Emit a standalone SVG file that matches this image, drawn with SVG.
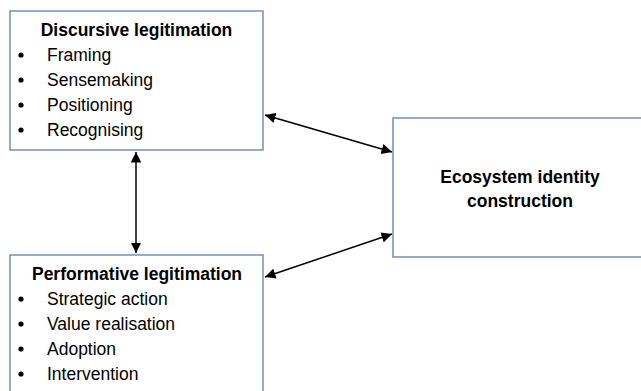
<svg xmlns="http://www.w3.org/2000/svg" width="641" height="391" viewBox="0 0 641 391">
<style>
.box{fill:#fff;stroke:#5b7fae;stroke-width:1.3}
.t{font-family:"Liberation Sans",Arial,sans-serif;font-size:17.5px;fill:#000}
.b{font-weight:bold}
.con{stroke:#000;stroke-width:1.5;fill:none;marker-start:url(#ah);marker-end:url(#ah)}
</style>
<defs>
<marker id="ah" viewBox="0 0 10 10" refX="10" refY="5" markerWidth="7" markerHeight="7" orient="auto-start-reverse" markerUnits="strokeWidth">
<path d="M0,0 L10,5 L0,10 Z" fill="#000"/>
</marker>
</defs>
<rect width="641" height="391" fill="#fff"/>
<g id="discursive">
<rect class="box" x="10" y="11" width="253" height="139"/>
<text class="t b" x="136.5" y="36" text-anchor="middle">Discursive legitimation</text>
<circle cx="21" cy="55" r="2.6"/><text class="t" x="47" y="61">Framing</text>
<circle cx="21" cy="80" r="2.6"/><text class="t" x="47" y="86">Sensemaking</text>
<circle cx="21" cy="105" r="2.6"/><text class="t" x="47" y="111">Positioning</text>
<circle cx="21" cy="130" r="2.6"/><text class="t" x="47" y="136">Recognising</text>
</g>
<g id="performative">
<rect class="box" x="10" y="255" width="253" height="145"/>
<text class="t b" x="137" y="280" text-anchor="middle">Performative legitimation</text>
<circle cx="21" cy="299" r="2.6"/><text class="t" x="47" y="305">Strategic action</text>
<circle cx="21" cy="324" r="2.6"/><text class="t" x="47" y="330">Value realisation</text>
<circle cx="21" cy="349" r="2.6"/><text class="t" x="47" y="355">Adoption</text>
<circle cx="21" cy="374" r="2.6"/><text class="t" x="47" y="380">Intervention</text>
</g>
<g id="ecosystem">
<rect class="box" x="393" y="118" width="260" height="139"/>
<text class="t b" x="520" y="183" text-anchor="middle">Ecosystem identity</text>
<text class="t b" x="520" y="207" text-anchor="middle">construction</text>
</g>
<g id="connectors">
<line class="con" x1="265" y1="115" x2="392" y2="152"/>
<line class="con" x1="265" y1="277" x2="392" y2="234"/>
<line class="con" x1="136" y1="152" x2="136" y2="253"/>
</g>
</svg>
